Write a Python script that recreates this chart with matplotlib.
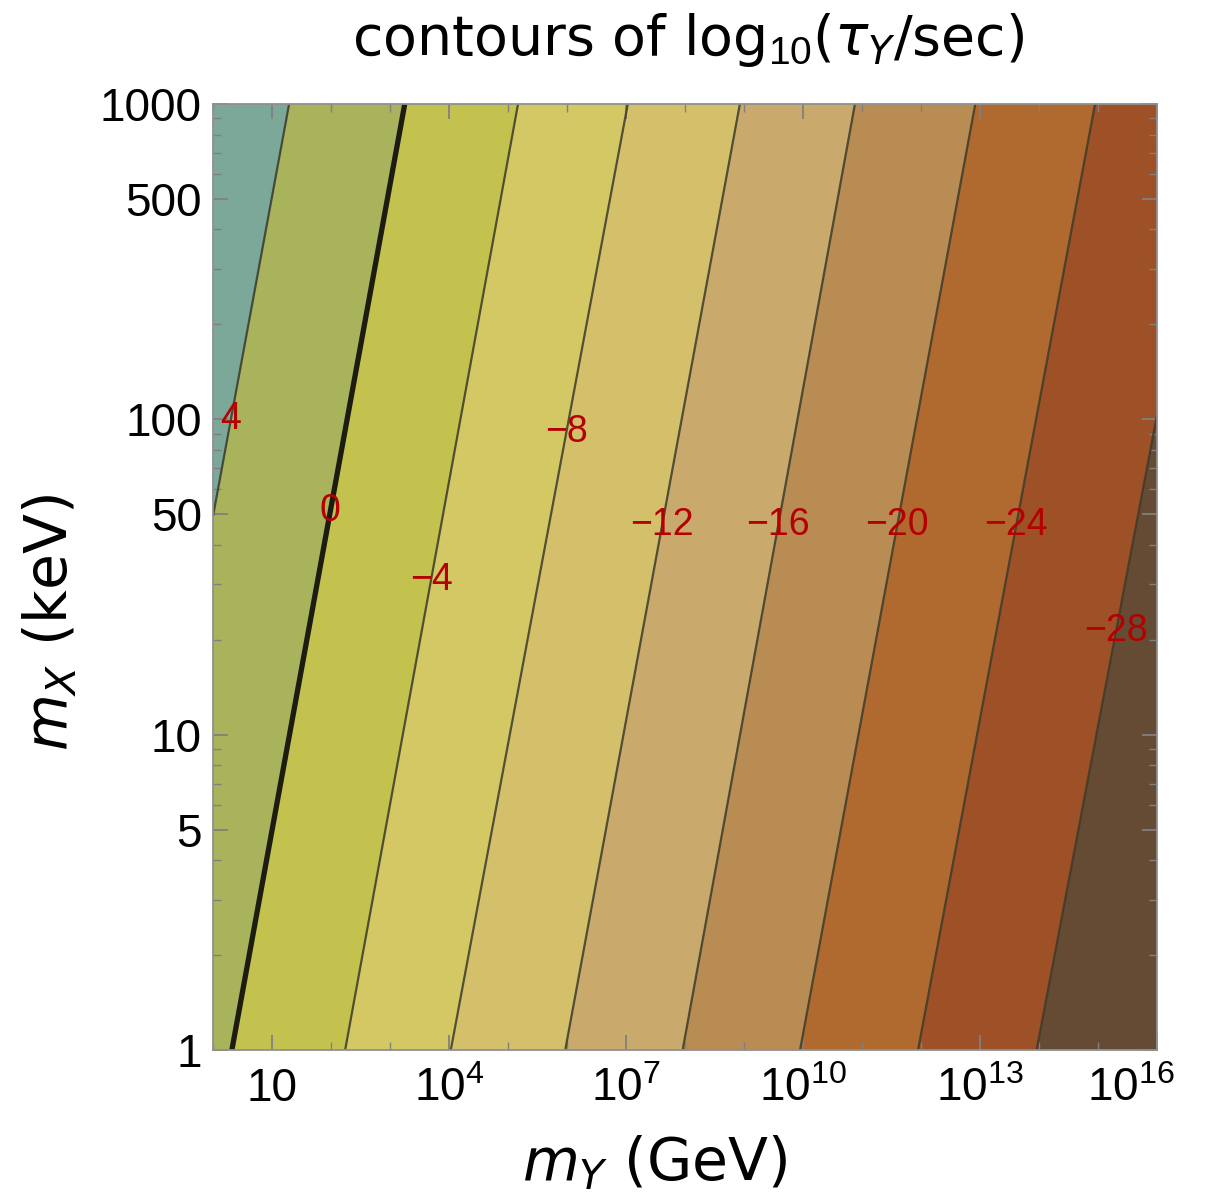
import numpy as np
import matplotlib
matplotlib.use("Agg")
import matplotlib.pyplot as plt
import matplotlib.transforms as mtransforms
from matplotlib.ticker import FixedLocator, NullFormatter

plt.rcParams['font.family'] = ['Liberation Sans', 'DejaVu Sans']
plt.rcParams['mathtext.fontset'] = 'custom'
plt.rcParams['mathtext.rm'] = 'Liberation Sans'
plt.rcParams['mathtext.it'] = 'DejaVu Sans:italic'
plt.rcParams['mathtext.sf'] = 'DejaVu Sans'

# contour levels of log10(tau_Y/sec)
levels = [4, 0, -4, -8, -12, -16, -20, -24, -28]
# log10(m_Y/GeV) where each contour crosses m_X = 1 keV and m_X = 1000 keV
log_my_bottom = [-1.67, 0.32, 2.24, 4.03, 5.97, 7.96, 9.95, 11.95, 13.96]
log_my_top = [1.29, 3.25, 5.17, 7.03, 8.93, 10.88, 12.92, 14.95, 17.0]
# where the labels sit, as log10(m_X/keV)
label_log_mx = [2.0, 1.71, 1.49, 1.96, 1.665, 1.665, 1.665, 1.665, 1.33]

fill_colors = ['#654b33', '#9e5027', '#b0692f', '#b98c53', '#c9a96c',
               '#d4c06a', '#d4c865', '#c4c24e', '#a8b35b', '#7ba898']

bot = np.array(log_my_bottom)
top = np.array(log_my_top)
lev = np.array(levels, dtype=float)


def crossings(t):
    return bot + (top - bot) * t / 3.0


lx = np.linspace(0, 16, 800)
ly = np.linspace(0, 3, 300)
Z = np.empty((ly.size, lx.size))
for i, t in enumerate(ly):
    p = crossings(t)
    xp = np.concatenate([[p[0] - 10], p, [p[-1] + 10]])
    fp = np.concatenate([[lev[0] + 20], lev, [lev[-1] - 20]])
    Z[i] = np.interp(lx, xp, fp)

X, Y = np.meshgrid(10.0 ** lx, 10.0 ** ly)

fig = plt.figure(figsize=(12.3, 11.99), dpi=100)
ax = fig.add_axes([213 / 1230, 1 - 1050 / 1199, 944 / 1230, 946 / 1199])

fill_levels = [-200] + sorted(levels) + [200]
ax.contourf(X, Y, Z, levels=fill_levels, colors=fill_colors)
ax.contour(X, Y, Z, levels=sorted(levels), colors='#3a3a2c', linewidths=1.6,
           linestyles='solid', alpha=0.85)
ax.contour(X, Y, Z, levels=[0], colors='#1c1c12', linewidths=3.8, linestyles='solid')

ax.set_xscale('log')
ax.set_yscale('log')
ax.set_xlim(1, 1e16)
ax.set_ylim(1, 1000)

# contour labels
for k, (L, t) in enumerate(zip(levels, label_log_mx)):
    pos = crossings(t)[k]
    txt = str(L).replace('-', '\u2212')
    ax.text(10 ** pos, 10 ** t, txt, color='#b50000', fontsize=27,
            ha='center', va='center', family='Liberation Sans')

# ticks
xmaj = [10.0 ** e for e in range(1, 17, 3)]
xlab = ['10'] + [r'$\mathregular{10^{%d}}$' % e for e in range(4, 17, 3)]
ax.xaxis.set_major_locator(FixedLocator(xmaj))
ax.set_xticklabels(xlab)
ax.xaxis.set_minor_locator(FixedLocator([10.0 ** e for e in range(0, 17)]))
ax.xaxis.set_minor_formatter(NullFormatter())

ymaj = [1, 5, 10, 50, 100, 500, 1000]
ax.yaxis.set_major_locator(FixedLocator(ymaj))
ax.set_yticklabels([str(v) for v in ymaj])
ymin = [m * 10 ** d for d in range(0, 3) for m in range(2, 10) if m != 5]
ax.yaxis.set_minor_locator(FixedLocator(ymin))
ax.yaxis.set_minor_formatter(NullFormatter())

ax.tick_params(which='both', direction='in', top=True, right=True,
               color='#808080', labelsize=33, pad=8)
ax.tick_params(which='major', length=11, width=1.3)
ax.tick_params(which='minor', length=6, width=1.0)
ax.tick_params(axis='x', which='major', pad=12)
for s in ax.spines.values():
    s.set_color('#909090')
    s.set_linewidth(1.3)

# last x label pulled inward like the original
last = ax.get_xticklabels()[-1]
last.set_horizontalalignment('right')
last.set_transform(last.get_transform() +
                   mtransforms.ScaledTranslation(18 / 100, 0, fig.dpi_scale_trans))

fig.text(688 / 1230, 1 - 40 / 1199, r'contours of log$_{10}$($\tau_Y$/sec)',
         ha='center', va='center', fontsize=40, family='DejaVu Sans')
fig.text(655 / 1230, 1 - 1163 / 1199, r'$m_Y$ (GeV)',
         ha='center', va='center', fontsize=42, family='DejaVu Sans')
fig.text(50 / 1230, 1 - 622 / 1199, r'$m_X$ (keV)', rotation=90,
         ha='center', va='center', fontsize=42, family='DejaVu Sans')

fig.savefig('out.png', dpi=100)
